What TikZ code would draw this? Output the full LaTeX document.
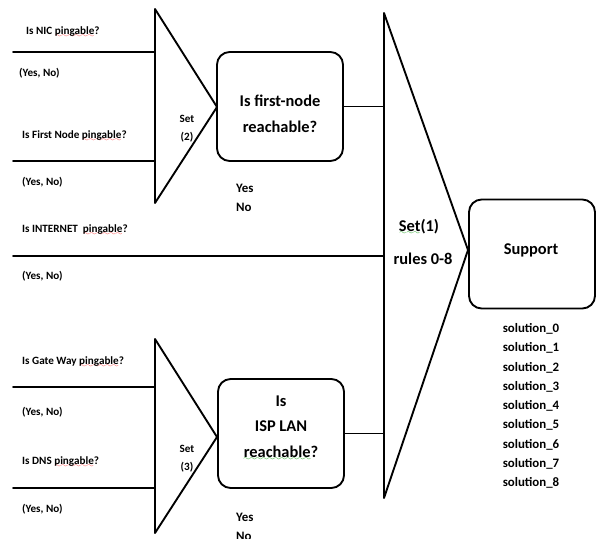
\documentclass[tikz,border=0pt]{standalone}
\usepackage{fontspec}
\setmainfont{Carlito}
\usepackage{pgf,tikz}
\usepackage{tkz-euclide}
\usepackage{xcolor}
\usetikzlibrary{arrows, calc}

\font\wavefont=lasy6
\newcommand\wavemark[2]{\setbox0\hbox{#2}\rlap{\textcolor{#1}{\lower2.5pt\hbox to\wd0{\xleaders\hbox{\wavefont\char58}\hfil}}}\box0}
\newcommand\spellred[1]{\wavemark{red!80}{#1}}
\newcommand\spellgreen[1]{\wavemark{green!60!black}{#1}}

\tikzset{
  wire/.style={line width=1.6pt, black},
  box/.style={draw, line width=1.6pt, rounded corners=0.38cm, minimum width=3.78cm, minimum height=3.27cm},
  small/.style={font=\fontsize{9.5}{11}\selectfont\bfseries, inner sep=0pt, anchor=west},
  setlabel/.style={font=\fontsize{9.5}{15.3}\selectfont\bfseries, inner sep=0pt, align=center},
  yesno/.style={font=\fontsize{11}{16.2}\selectfont\bfseries, inner sep=0pt, anchor=west, align=left},
  boxtext/.style={font=\fontsize{14}{22}\selectfont\bfseries, inner sep=0pt, align=center},
  sol/.style={font=\fontsize{11}{13}\selectfont\bfseries, inner sep=0pt}
}

\begin{document}
\begin{tikzpicture}[scale=0.3]
    \path[use as bounding box, fill=white] (0,0) rectangle (59.6,53.8);

    % set (2)
    \tkzDefPoint(15.5,52.9){A1}
    \tkzDefPoint(15.5,33.5){A2}
    \tkzDefPoint(21.7,43.1){A3}
    \tkzDrawPolygon[wire](A1,A2,A3)

    % set (3)
    \tkzDefPoint(15.5,19.9){C1}
    \tkzDefPoint(15.5,0.5){C2}
    \tkzDefPoint(21.7,10.1){C3}
    \tkzDrawPolygon[wire](C1,C2,C3)

    % set (1)
    \tkzDefPoint(38.4,52.5){S1}
    \tkzDefPoint(38.4,4.0){S2}
    \tkzDefPoint(46.8,28.8){S3}
    \tkzDrawPolygon[wire](S1,S2,S3)

    % inputs
    \tkzDefPoint(1.3,48.6){L1}
    \tkzDefPoint(1.3,37.7){L2}
    \tkzDefPoint(1.3,28.2){L3}
    \tkzDefPoint(1.3,15.1){L4}
    \tkzDefPoint(1.3,5.0){L5}
    \tkzDefPoint(15.5,48.6){E1}
    \tkzDefPoint(15.5,37.7){E2}
    \tkzDefPoint(38.4,28.2){E3}
    \tkzDefPoint(15.5,15.1){E4}
    \tkzDefPoint(15.5,5.0){E5}
    \tkzDrawSegments[wire](L1,E1 L2,E2 L3,E3 L4,E4 L5,E5)

    \node[small] (Q1) at (2.6,50.6) {Is NIC \spellred{pingable}?};
    \node[small] (Y1) at (1.9,46.5) {(Yes, No)};
    \node[small] (Q2) at (2.2,40.2) {Is First Node \spellred{pingable}?};
    \node[small] (Y2) at (2.2,35.6) {(Yes, No)};
    \node[small] (Q3) at (2.2,30.8) {Is INTERNET\ \ \spellred{pingable}?};
    \node[small] (Y3) at (2.2,26.2) {(Yes, No)};
    \node[small] (Q4) at (2.2,17.6) {Is Gate Way \spellred{pingable}?};
    \node[small] (Y4) at (2.2,12.6) {(Yes, No)};
    \node[small] (Q5) at (2.2,7.6) {Is DNS \spellred{pingable}?};
    \node[small] (Y5) at (2.2,2.9) {(Yes, No)};

    \node[setlabel] (K2) at (18.7,40.9) {Set\\(2)};
    \node[setlabel] (K3) at (18.7,7.9) {Set\\(3)};

    % boxes
    \node[box] (B1) at (28.0,43.15) {};
    \node[box] (B2) at (28.1,10.45) {};
    \node[box] (B3) at (53.2,28.4) {};
    \node[boxtext] (X1) at (28.0,42.4) {Is first-node\\reachable?};
    \node[boxtext] (X2) at (28.1,11.0) {Is\\ISP LAN\\\spellgreen{reachable}?};
    \node[boxtext] (X3) at (53.1,28.8) {Support};
    \draw[wire] (B1.east) -- (B1.east -| S1);
    \draw[wire] (B2.east) -- (B2.east -| S1);

    \node[yesno] (R1) at (23.6,34.05) {Yes\\No};
    \node[yesno] (R2) at (23.6,1.1) {Yes\\No};

    \node[boxtext] (K1) at (41.9,31.1) {\spellgreen{Set}(1)};
    \node[boxtext] (K0) at (42.3,27.9) {rules 0-8};

    \foreach \i in {0,...,8}
        \node[sol] (sol\i) at (53.1,20.9-1.925*\i) {solution\_\i};
\end{tikzpicture}
\end{document}
